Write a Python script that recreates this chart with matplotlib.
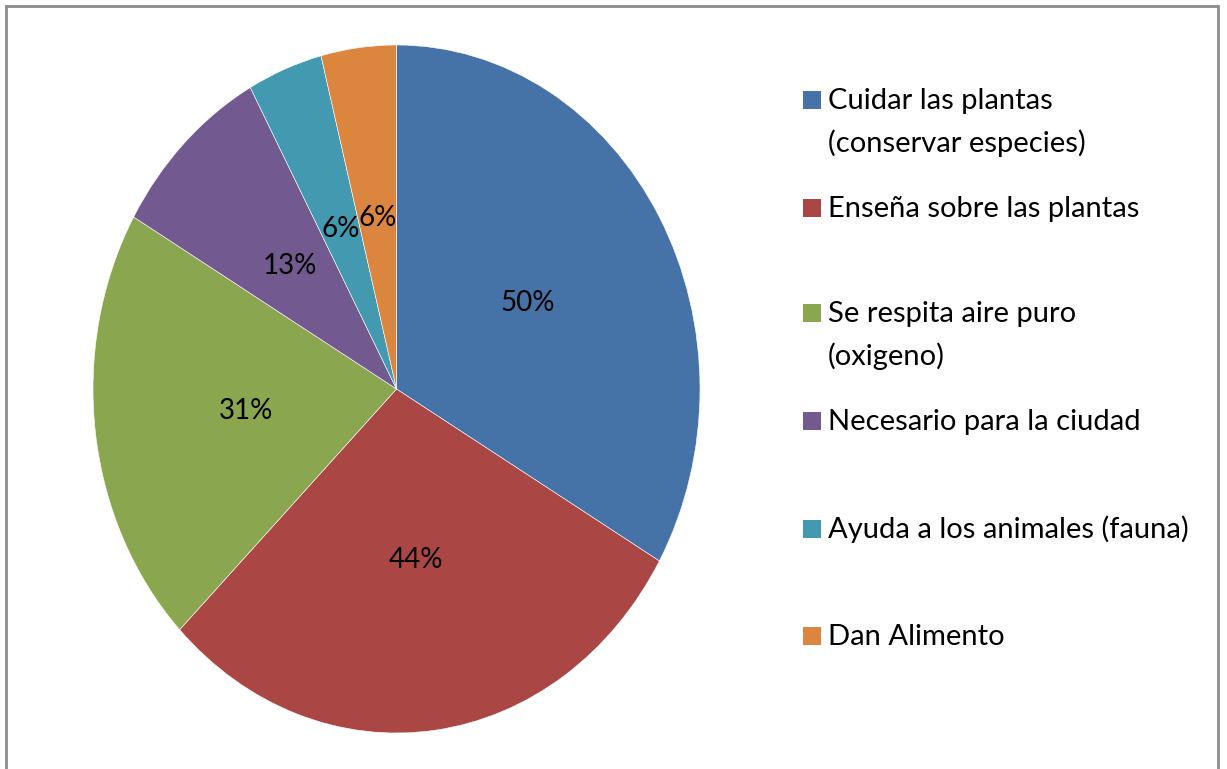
import matplotlib.pyplot as plt
from matplotlib.patches import Rectangle

plt.rcParams['font.family'] = ['Lato', 'DejaVu Sans']

# data
categories = ['Cuidar las plantas\n(conservar especies)', 'Enseña sobre las plantas',
              'Se respita aire puro\n(oxigeno)', 'Necesario para la ciudad',
              'Ayuda a los animales (fauna)', 'Dan Alimento']
values = [50, 44, 31, 13, 6, 6]
colors = ['#4673A7', '#AA4744', '#8AA64E', '#72598F', '#4299B0', '#DB853E']

W, H = 1227, 769
fig = plt.figure(figsize=(W / 100, H / 100), dpi=100)

# pie area (slightly stretched vertically, as in the original)
ax = fig.add_axes([93 / W, 1 - 733 / H, 607 / W, 688 / H])
total = sum(values)
wedges, texts, autotexts = ax.pie(
    values, colors=colors, startangle=90, counterclock=False,
    autopct=lambda p: '%d%%' % round(p * total / 100),
    pctdistance=0.5, radius=1.0,
    wedgeprops=dict(edgecolor='white', linewidth=0.4),
    textprops=dict(fontsize=20, color='black'))
ax.set_aspect('auto')
ax.set_xlim(-1, 1)
ax.set_ylim(-1, 1)

# outer frame
fig.add_artist(Rectangle((6 / W, -0.05), (1218 - 6) / W, 1 - 6 / H + 0.05,
                         transform=fig.transFigure, fill=False,
                         edgecolor='#8c8c8c', linewidth=2))

# legend, drawn by hand so the markers sit at the first line
y_first = [100, 208, 313, 421, 529, 636]
for lab, col, yp in zip(categories, colors, y_first):
    fig.add_artist(Rectangle((803 / W, 1 - (yp + 9) / H), 18 / W, 18 / H,
                             transform=fig.transFigure, facecolor=col,
                             edgecolor='none'))
    first, *rest = lab.split('\n')
    fig.text(828 / W, 1 - (yp + 9) / H, first, fontsize=21, va='baseline', ha='left')
    for i, line in enumerate(rest, 1):
        fig.text(828 / W, 1 - (yp + 9 + 43 * i) / H, line, fontsize=21,
                 va='baseline', ha='left')

fig.savefig('out.png', dpi=100)
